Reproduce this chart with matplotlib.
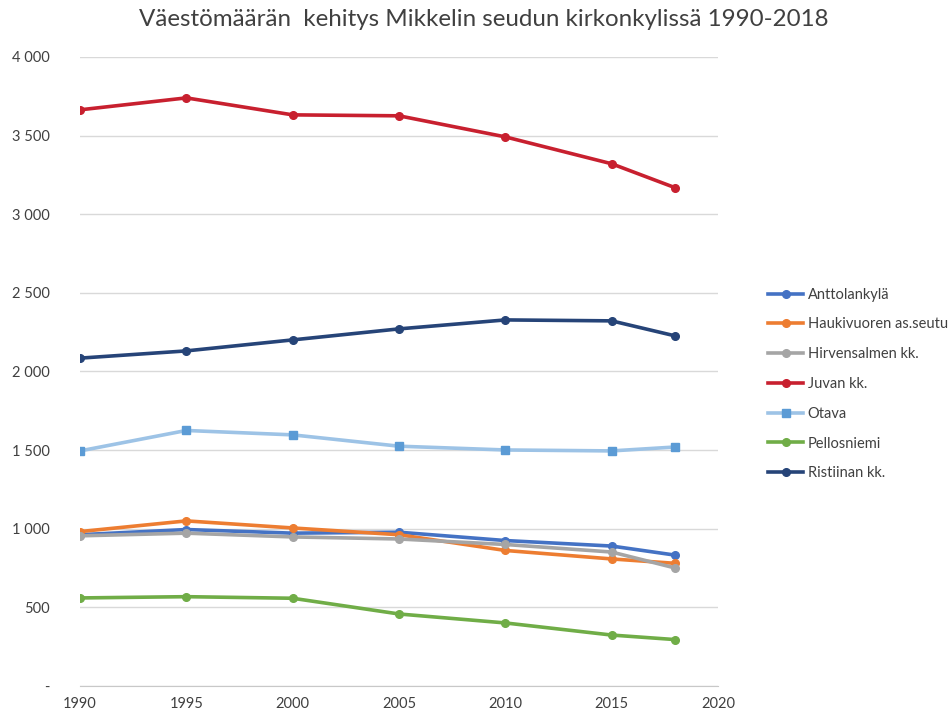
import matplotlib
matplotlib.use("Agg")
import matplotlib.pyplot as plt
from matplotlib.ticker import FuncFormatter

plt.rcParams['font.family'] = ['Lato', 'DejaVu Sans']

years = [1990, 1995, 2000, 2005, 2010, 2015, 2018]
anttola = [962, 995, 972, 978, 925, 890, 832]
haukivuori = [982, 1050, 1005, 962, 862, 808, 780]
hirvensalmi = [955, 972, 948, 935, 900, 852, 750]
juva = [3664, 3740, 3632, 3626, 3492, 3321, 3168]
otava = [1495, 1625, 1597, 1525, 1501, 1495, 1520]
pellosniemi = [560, 568, 558, 458, 401, 324, 295]
ristiina = [2085, 2131, 2201, 2271, 2328, 2322, 2226]

names = ["Anttolankylä", "Haukivuoren as.seutu", "Hirvensalmen kk.", "Juvan kk.",
         "Otava", "Pellosniemi", "Ristiinan kk."]
series = [anttola, haukivuori, hirvensalmi, juva, otava, pellosniemi, ristiina]
line_colors = ["#4472C4", "#ED7D31", "#A5A5A5", "#C8202F", "#9DC3E6", "#70AD47", "#264478"]
marker_colors = ["#4472C4", "#ED7D31", "#A5A5A5", "#C8202F", "#5B9BD5", "#70AD47", "#264478"]
markers = ["o", "o", "o", "o", "s", "o", "o"]

fig = plt.figure(figsize=(9.51, 7.15), dpi=100)
ax = fig.add_axes([80/951, 1-686/715, (718-80)/951, (686-57)/715])

for name, vals, lc, mc, mk in zip(names, series, line_colors, marker_colors, markers):
    ax.plot(years, vals, color=lc, lw=2.6, marker=mk, markersize=5.5,
            markerfacecolor=mc, markeredgecolor=mc, label=name, zorder=3)

ax.set_xlim(1990, 2020)
ax.set_ylim(0, 4000)
ax.set_xticks(range(1990, 2021, 5))
ax.set_yticks(range(0, 4001, 500))

def yfmt(v, pos):
    if v == 0:
        return "-"
    s = f"{int(v):,}".replace(",", " ")
    return s
ax.yaxis.set_major_formatter(FuncFormatter(yfmt))

ax.grid(axis='y', color='#D9D9D9', lw=1)
ax.set_axisbelow(True)
for sp in ax.spines.values():
    sp.set_visible(False)
ax.spines['bottom'].set_visible(True)
ax.spines['bottom'].set_color('#C8C8C8')
ax.tick_params(axis='both', length=0, labelsize=10.5, colors='#404040')
ax.tick_params(axis='y', pad=22)
ax.tick_params(axis='x', pad=8)

fig.text(484/951, 1-20/715, "Väestömäärän  kehitys Mikkelin seudun kirkonkylissä 1990-2018",
         ha='center', va='center', fontsize=17.4, color='#404040')

leg = ax.legend(loc='center left', bbox_to_anchor=(755/951, 1-384/715),
                bbox_transform=fig.transFigure, frameon=False, fontsize=10.5,
                labelspacing=1.08, handlelength=2.4, handletextpad=0.3, labelcolor='#404040')

fig.savefig("out.png", dpi=100)
